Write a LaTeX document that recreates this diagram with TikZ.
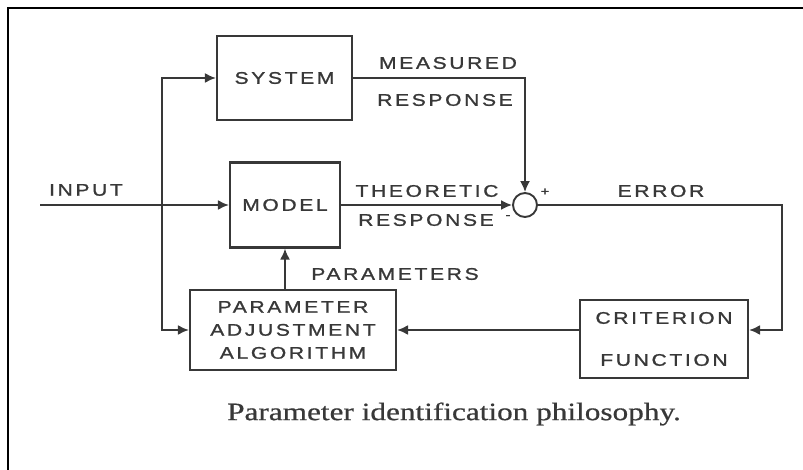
\documentclass[tikz,border=0pt]{standalone}
\usepackage{fontspec}
\newfontfamily\lblfont{Liberation Sans}[FakeStretch=1.25,LetterSpace=16,FakeBold=1.2]
\newfontfamily\capfont{Liberation Serif}[FakeStretch=1.25,FakeBold=0.6]
\usetikzlibrary{arrows.meta}
\definecolor{ink}{HTML}{383838}
\tikzset{
  blk/.style={draw=ink, line width=2.2pt, inner sep=0pt, align=center, text=ink,
    font=\lblfont\fontsize{16.8}{23}\selectfont},
  lbl/.style={inner sep=0pt, text=ink, font=\lblfont\fontsize{16.8}{23}\selectfont},
  sgn/.style={inner sep=0pt, text=ink, font=\lblfont\fontsize{12}{14}\selectfont},
  arr/.style={draw=ink, line width=1.8pt, -{Latex[length=11pt,width=10pt]}}
}
\begin{document}
\begin{tikzpicture}[x=1pt,y=-1pt]
    \useasboundingbox (0,0) rectangle (803,470);
    \draw[line width=2.2pt] (8,470) -- (8,8) -- (803,8);
    % blocks
    \node[blk, minimum width=135pt, minimum height=84pt] (sys) at (284.5,78) {SYSTEM};
    \node[blk, minimum width=110pt, minimum height=85pt] (model) at (285,205) {MODEL};
    \node[blk, minimum width=206pt, minimum height=80pt] (paa) at (293,330) {PARAMETER\\ADJUSTMENT\\ALGORITHM};
    \node[blk, minimum width=168pt, minimum height=78pt] (crit) at (664,339) {CRITERION\\[19pt]FUNCTION};
    \node[draw=ink, line width=1.9pt, circle, minimum size=24pt, inner sep=0pt] (sum) at (525,205) {};
    \coordinate (in) at (40,205);
    \coordinate (br) at (162,205);
    \coordinate (err) at (782,205);
    % connectors
    \draw[arr] (in) -- (model.west);
    \draw[arr] (br) |- (sys.west);
    \draw[arr] (br) |- (paa.west);
    \draw[arr] (sys.east) -| (sum.north);
    \draw[arr] (model.east) -- (sum.west);
    \draw[arr] (sum.east) -- (err) |- (crit.east |- paa.east);
    \draw[arr] (crit.west |- paa.east) -- (paa.east);
    \draw[arr] (model.south |- paa.north) -- (model.south);
    % labels
    \node[lbl] (meas) at (448,63) {MEASURED};
    \node[lbl] (mresp) at (445,100) {RESPONSE};
    \node[lbl] (inlbl) at (86,190) {INPUT};
    \node[lbl] (theo) at (427,191) {THEORETIC};
    \node[lbl] (tresp) at (426,220) {RESPONSE};
    \node[sgn] (plus) at (545,192) {+};
    \node[sgn] (minus) at (508,217) {-};
    \node[lbl] (errlbl) at (661,191) {ERROR};
    \node[lbl] (parlbl) at (395,274) {PARAMETERS};
    \node[text=ink, font=\capfont\fontsize{25}{30}\selectfont] (cap) at (454,414) {Parameter identification philosophy.};
\end{tikzpicture}
\end{document}
